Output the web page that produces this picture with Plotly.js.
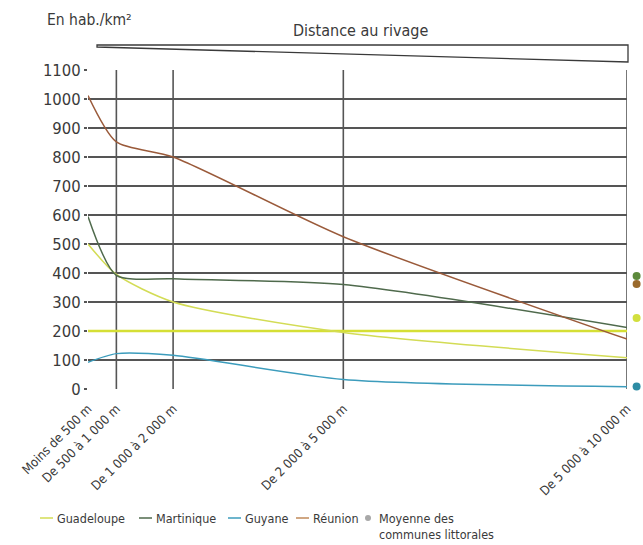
<!DOCTYPE html>
<html>
<head>
<meta charset="utf-8">
<script src="https://cdn.plot.ly/plotly-3.0.1.min.js"></script>
<style>html,body{margin:0;padding:0;background:#fff;}#chart{width:643px;height:545px;}</style>
</head>
<body>
<div id="chart"></div>
<script>
// Distance positions (upper bound of each band, in metres) and their labels
const distances = [500, 1000, 2000, 5000, 10000];
const distanceLabels = ["Moins de 500 m", "De 500 à 1 000 m", "De 1 000 à 2 000 m", "De 2 000 à 5 000 m", "De 5 000 à 10 000 m"];

// Density (hab./km²) per territory
const guadeloupe = [500, 395, 300, 195, 108];
const martinique = [595, 392, 380, 360, 212];
const guyane = [92, 122, 116, 33, 8];
const reunion = [1012, 852, 800, 525, 172];

// Reference line (horizontal, yellow-green)
const refLineX = [500, 10000];
const refLineY = [200, 200];

// Average of coastal communes (dots to the right of the chart)
const moyenneCategory = ["Moyenne"];
const moyenneGuadeloupe = [245];
const moyenneMartinique = [390];
const moyenneGuyane = [9];
const moyenneReunion = [362];

const yTicks = [0,100,200,300,400,500,600,700,800,900,1000,1100];

const colors = {
  guadeloupe: "#d3dc55",
  ref: "#d5df35",
  martinique: "#4f6a4c",
  guyane: "#3c9cbc",
  reunion: "#9a5a3a",
  dotMartinique: "#5d8a3c",
  dotReunion: "#9a6a2c",
  dotGuadeloupe: "#d2df3e",
  dotGuyane: "#2d8ca4",
  legendDot: "#a8a8a8",
  grid: "#555555",
  text: "#3a3a3a"
};

const FONT = "'Liberation Sans Narrow', 'DejaVu Sans Condensed', 'Arial Narrow', sans-serif";

const lineTrace = (name, y, color) => ({
  type: "scatter", mode: "lines", name: name,
  x: distances, y: y, xaxis: "x", yaxis: "y",
  line: {color: color, width: 1.5, shape: "spline", smoothing: 0.7},
  cliponaxis: false, showlegend: false
});

const dotTrace = (name, y, color) => ({
  type: "scatter", mode: "markers", name: name,
  x: moyenneCategory, y: y, xaxis: "x2", yaxis: "y2",
  marker: {size: 8, color: color}, cliponaxis: false, showlegend: false
});

const traces = [
  {type: "scatter", mode: "lines", x: refLineX, y: refLineY, showlegend: false,
   line: {color: colors.ref, width: 2.5}, hoverinfo: "skip"},
  lineTrace("Guadeloupe", guadeloupe, colors.guadeloupe),
  lineTrace("Martinique", martinique, colors.martinique),
  lineTrace("Guyane", guyane, colors.guyane),
  lineTrace("Réunion", reunion, colors.reunion),
  dotTrace("Moyenne Guyane", moyenneGuyane, colors.dotGuyane),
  dotTrace("Moyenne Guadeloupe", moyenneGuadeloupe, colors.dotGuadeloupe),
  dotTrace("Moyenne Réunion", moyenneReunion, colors.dotReunion),
  dotTrace("Moyenne Martinique", moyenneMartinique, colors.dotMartinique)
];

// geometry helpers: paper coordinates from pixel positions of the 643x545 canvas
const ML = 88, MR = 4, MT = 70, MB = 156;
const PW = 643 - ML - MR, PH = 545 - MT - MB;
const px = v => (v - ML) / PW;
const py = v => (545 - MB - v) / PH;
const mainEnd = px(627);

// vertical grid lines at the band limits (except the left edge)
const vGrid = distances.slice(1).map(d => ({
  type: "line", xref: "x", yref: "paper", x0: d, x1: d, y0: 0, y1: 1,
  line: {color: colors.grid, width: 1.6}, layer: "below"
}));

// manual legend
const legendItems = [
  {label: "Guadeloupe", color: colors.guadeloupe, x: 40},
  {label: "Martinique", color: colors.martinique, x: 139},
  {label: "Guyane", color: colors.guyane, x: 228},
  {label: "Réunion", color: "#c08a5a", x: 296}
];
const legY = 518;
const legendShapes = legendItems.map(it => ({
  type: "line", xref: "paper", yref: "paper",
  x0: px(it.x), x1: px(it.x + 13), y0: py(legY), y1: py(legY),
  line: {color: it.color, width: 1.5}
}));
legendShapes.push({
  type: "circle", xref: "paper", yref: "paper", xsizemode: "pixel", ysizemode: "pixel",
  xanchor: px(368), yanchor: py(legY), x0: -3, x1: 3, y0: -3, y1: 3,
  fillcolor: colors.legendDot, line: {width: 0}
});
const legendAnn = legendItems.map(it => ({
  text: it.label, xref: "paper", yref: "paper", x: px(it.x + 15), y: py(legY),
  xanchor: "left", yanchor: "middle", showarrow: false,
  font: {family: FONT, size: 12.5, color: colors.text}
}));
legendAnn.push({
  text: "Moyenne des<br>communes littorales", xref: "paper", yref: "paper",
  x: px(377), y: py(legY - 9), xanchor: "left", yanchor: "top", align: "left", showarrow: false,
  font: {family: FONT, size: 12.5, color: colors.text}
});

const layout = {
  width: 643, height: 545,
  margin: {l: ML, r: MR, t: MT, b: MB},
  paper_bgcolor: "#fff", plot_bgcolor: "rgba(0,0,0,0)",
  font: {family: FONT, size: 12, color: colors.text},
  showlegend: false,
  xaxis: {
    domain: [0, mainEnd], anchor: "y",
    type: "linear", range: [500, 10000],
    tickmode: "array", tickvals: distances, ticktext: distanceLabels,
    tickangle: -45, tickfont: {family: FONT, size: 12.8, color: colors.text},
    ticklabelstandoff: 9,
    showgrid: false, zeroline: false, showline: false, ticks: "", fixedrange: true
  },
  yaxis: {
    domain: [0, 1], anchor: "x",
    range: [0, 1100], tickmode: "array", tickvals: yTicks,
    tickfont: {family: FONT, size: 16.5, color: colors.text},
    showgrid: true, gridcolor: colors.grid, gridwidth: 1.6,
    zeroline: false, showline: false,
    ticks: "outside", ticklen: 3, tickcolor: colors.grid, tickwidth: 1.6, fixedrange: true
  },
  xaxis2: {
    domain: [mainEnd, 1], anchor: "y2", type: "category", range: [-1.2, 0.3],
    visible: false, showgrid: false, zeroline: false, fixedrange: true
  },
  yaxis2: {
    domain: [0, 1], anchor: "x2", range: [0, 1100],
    visible: false, showgrid: false, zeroline: false, fixedrange: true
  },
  shapes: [
    {type: "path", xref: "paper", yref: "paper",
     path: `M ${px(97)} ${py(45)} L ${px(628)} ${py(45)} L ${px(628)} ${py(62)} L ${px(97)} ${py(47)} Z`,
     line: {color: "#3a3a3a", width: 1.3}, fillcolor: "#ffffff"}
  ].concat(vGrid, legendShapes),
  annotations: [
    {text: "En hab./km²", xref: "paper", yref: "paper", x: px(45), y: py(20),
     xanchor: "left", yanchor: "middle", showarrow: false,
     font: {family: FONT, size: 15.5, color: colors.text}},
    {text: "Distance au rivage", xref: "paper", yref: "paper", x: px(360), y: py(30),
     xanchor: "center", yanchor: "middle", showarrow: false,
     font: {family: FONT, size: 16, color: colors.text}}
  ].concat(legendAnn)
};

Plotly.newPlot("chart", traces, layout, {displayModeBar: false, staticPlot: true});
</script>
</body>
</html>
